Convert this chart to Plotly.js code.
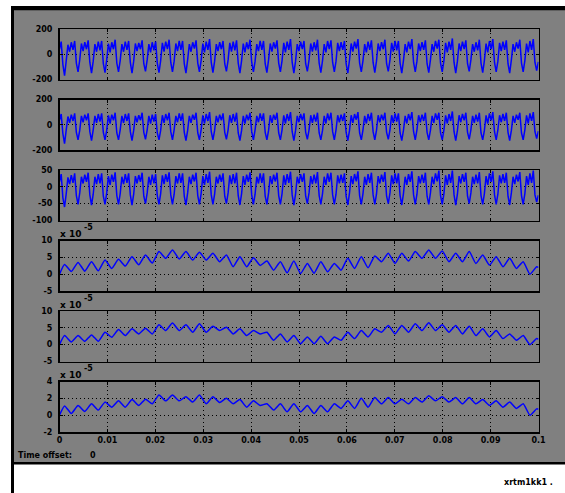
<!DOCTYPE html>
<html><head><meta charset="utf-8">
<script src="https://cdn.plot.ly/plotly-3.0.1.min.js"></script>
<style>html,body{margin:0;padding:0;background:#fff;overflow:hidden}#chart{width:565px;height:493px}</style>
</head><body><div id="chart"></div>
<script>
// ---- data ----
const dt = 0.000352;            // scope sample step (s)
const xTickVals = [0,0.01,0.02,0.03,0.04,0.05,0.06,0.07,0.08,0.09,0.1];
const xTickText = ["0","0.01","0.02","0.03","0.04","0.05","0.06","0.07","0.08","0.09","0.1"];

// signal 1 (one row per cycle, 8 samples each)
const v1 = [
 40,100,-80,-170,-50,75,20,95,
 35,105,-70,-140,-45,85,25,95,
 40,110,-65,-150,-55,80,20,100,
 30,105,-75,-145,-45,85,15,95,
 40,115,-70,-140,-50,80,20,100,
 35,105,-65,-150,-55,85,25,90,
 40,110,-75,-135,-45,80,15,95,
 30,100,-70,-145,-50,90,20,100,
 40,115,-65,-140,-55,85,25,105,
 35,105,-75,-150,-45,80,20,95,
 45,110,-70,-140,-50,85,15,100,
 35,120,-65,-145,-55,80,25,95,
 40,105,-75,-135,-45,90,20,100,
 30,110,-70,-150,-50,85,15,95,
 40,115,-65,-140,-55,80,25,105,
 35,105,-75,-145,-45,85,20,95,
 45,110,-70,-140,-50,90,15,100,
 35,120,-65,-150,-55,80,25,100,
 40,105,-75,-135,-45,85,20,95,
 30,115,-70,-145,-50,80,15,105,
 40,110,-65,-140,-55,90,25,95,
 35,105,-75,-150,-45,85,20,100,
 45,120,-70,-140,-50,80,15,100,
 35,110,-65,-145,-55,85,25,95,
 40,115,-75,-135,-45,90,20,105,
 30,105,-70,-150,-50,80,15,100,
 40,120,-65,-140,-55,85,25,95,
 35,110,-75,-145,-45,80,20,105,
 45,115,-70,-140,-50,90,15,100,
 35,125,-65,-150,-55,85,25,100,
 40,110,-75,-135,-45,80,20,95,
 30,115,-70,-145,-50,85,15,105,
 40,120,-65,-140,-55,90,25,100,
 35,110,-75,-150,-45,80,20,95,
 45,115,-70,-140,-50,85,15,105,
 35,120,-65,-130,-60
];
// signal 2
const v2 = [
 35,85,-70,-150,-40,65,15,80,
 30,90,-60,-120,-45,70,20,80,
 35,90,-55,-125,-40,70,15,85,
 25,90,-60,-120,-45,75,10,80,
 35,95,-65,-120,-40,70,15,85,
 30,90,-55,-125,-45,70,20,75,
 35,95,-60,-115,-40,70,10,80,
 25,85,-65,-120,-45,75,15,85,
 35,95,-55,-120,-40,70,20,90,
 30,90,-60,-125,-45,70,15,80,
 40,95,-65,-120,-40,75,10,85,
 30,100,-55,-120,-45,70,20,80,
 35,90,-60,-115,-40,75,15,85,
 25,95,-65,-125,-45,70,10,80,
 35,95,-55,-120,-40,70,20,90,
 30,90,-60,-120,-45,75,15,80,
 40,95,-65,-120,-40,75,10,85,
 30,100,-55,-125,-45,70,20,85,
 35,90,-60,-115,-40,75,15,80,
 25,95,-65,-120,-45,70,10,90,
 35,95,-55,-120,-40,75,20,80,
 30,90,-60,-125,-45,75,15,85,
 40,100,-65,-120,-40,70,10,85,
 30,95,-55,-120,-45,75,20,80,
 35,95,-60,-115,-40,75,15,90,
 25,90,-65,-125,-45,70,10,85,
 35,100,-55,-120,-40,75,20,80,
 30,95,-60,-120,-45,70,15,90,
 40,95,-65,-120,-40,75,10,85,
 30,105,-55,-125,-45,75,20,85,
 35,95,-60,-115,-40,70,15,80,
 25,95,-65,-120,-45,75,10,90,
 35,100,-55,-120,-40,75,20,85,
 30,95,-60,-125,-45,70,15,80,
 40,95,-65,-120,-40,75,10,90,
 30,100,-55,-110,-50
];
// signal 3
const v3 = [
 15,38,-32,-60,-20,28,8,35,
 12,40,-26,-52,-18,30,10,36,
 15,42,-24,-54,-22,30,8,38,
 10,40,-28,-52,-18,32,6,36,
 15,43,-26,-52,-20,30,8,38,
 12,40,-24,-54,-22,32,10,35,
 15,42,-28,-50,-18,30,6,36,
 10,38,-26,-52,-20,34,8,38,
 15,43,-24,-52,-22,32,10,40,
 12,40,-28,-54,-18,30,8,36,
 16,42,-26,-52,-20,32,6,38,
 12,45,-24,-52,-22,30,10,36,
 15,40,-28,-50,-18,34,8,38,
 10,42,-26,-54,-20,32,6,36,
 15,43,-24,-52,-22,30,10,40,
 12,40,-28,-52,-18,32,8,36,
 16,42,-26,-52,-20,34,6,38,
 12,45,-24,-54,-22,30,10,38,
 15,40,-28,-50,-18,32,8,36,
 10,44,-26,-52,-20,30,6,40,
 15,42,-24,-52,-22,34,10,36,
 12,40,-28,-54,-18,32,8,38,
 16,46,-26,-52,-20,30,6,38,
 12,42,-24,-52,-22,32,10,36,
 15,44,-28,-50,-18,34,8,40,
 10,40,-26,-54,-20,30,6,38,
 15,46,-24,-52,-22,32,10,36,
 12,42,-28,-52,-18,30,8,40,
 16,48,-26,-52,-20,34,6,38,
 12,48,-24,-54,-22,32,10,38,
 15,42,-28,-50,-18,30,8,36,
 10,44,-26,-52,-20,32,6,40,
 15,46,-24,-52,-22,34,10,38,
 12,42,-28,-54,-18,30,8,36,
 16,44,-26,-52,-20,32,6,40,
 12,48,-24,-45,-25
];
// signals 4-6 (x 10^-5): start, then peak/trough pairs per cycle, last peak, end
const v4 = [0, 2.9,0.8, 3.5,0.9, 3.7,1.0, 4.2,1.7, 4.4,2.4, 5.2,2.8, 5.7,3.3, 6.7,4.7, 7.2,4.5, 6.7,4.2,
 6.5,4.2, 6.2,3.7, 5.7,2.2, 5.2,2.2, 4.9,2.6, 3.9,1.2, 3.7,0.4, 3.9,0.2, 3.2,0.3, 3.7,0.7,
 3.2,1.2, 4.7,1.7, 5.2,1.9, 5.4,3.7, 6.2,3.2, 6.2,3.9, 6.7,4.7, 7.2,4.7, 6.9,3.7, 6.2,3.7,
 6.7,3.2, 5.7,2.7, 5.2,2.2, 4.7,1.7, 3.7,0.0, 2.2, 2.0];
const v5 = [0, 2.7,0.8, 2.7,1.0, 2.9,1.0, 3.7,2.2, 4.5,2.7, 4.7,3.2, 4.9,3.2, 5.9,4.2, 6.4,4.2, 5.9,3.7,
 6.2,3.7, 5.5,4.2, 5.2,3.2, 4.7,2.7, 4.2,3.2, 3.7,1.3, 3.2,0.8, 2.7,0.3, 2.3,0.3, 2.5,0.3,
 2.3,1.3, 3.7,1.8, 4.2,2.3, 4.7,3.7, 5.7,3.2, 5.7,3.7, 6.2,4.2, 6.5,4.2, 5.9,3.7, 5.7,3.2,
 5.5,2.7, 4.7,2.3, 4.2,1.8, 3.2,1.3, 2.7,0.0, 1.8, 1.6];
const v6 = [0, 1.1,0.2, 1.15,0.45, 1.35,0.6, 1.55,0.95, 1.7,0.95, 1.85,1.15, 1.9,1.35, 2.4,1.7, 2.4,1.7, 2.2,1.55,
 2.4,1.35, 2.2,1.5, 2.0,1.35, 1.85,0.95, 1.7,1.15, 1.35,0.6, 1.35,0.4, 1.35,0.4, 1.15,0.2, 1.15,0.4,
 1.35,0.8, 1.7,0.8, 2.0,0.95, 2.1,1.35, 2.1,1.35, 1.9,1.35, 2.1,1.55, 2.3,1.7, 2.2,1.55, 2.1,1.35,
 2.1,1.35, 1.85,1.15, 1.7,0.95, 1.55,0.8, 1.35,0.0, 0.75, 0.7];

const yTicks = [
  {range:[-200,200], vals:[-200,0,200], text:["-200","0","200"]},
  {range:[-200,200], vals:[-200,0,200], text:["-200","0","200"]},
  {range:[-100,50],  vals:[-100,-50,0,50], text:["-100","-50","0","50"]},
  {range:[-5,10],    vals:[-5,0,5,10], text:["-5","0","5","10"]},
  {range:[-5,10],    vals:[-5,0,5,10], text:["-5","0","5","10"]},
  {range:[-2,4],     vals:[-2,0,2,4],  text:["-2","0","2","4"]}
];
const expBase = "x 10";
const expPower = "-5";
const offsetLabel = "Time offset:";
const offsetValue = "0";
const footerText = "xrtm1kk1 .";

// ---- time grids ----
const tFast = v1.map((_, i) => i * dt);
const tSlow = [0];
for (let k = 0; k < 35; k++) { tSlow.push((3 + 8*k) * dt); tSlow.push((7 + 8*k) * dt); }
tSlow.push(283 * dt); tSlow.push(0.1);

// ---- layout geometry (pixels) ----
const W = 565, H = 493;
const fx = x => x / W, fy = y => 1 - y / H;
const plotL = 59.5, plotR = 538.5;
const tops = [29, 99.5, 170, 240.5, 311, 381.5];
const ph = 50.5;

const font = {family: "DejaVu Sans, Arial, sans-serif", size: 8, color: "#000", weight: "bold"};
const expFont = {family: "DejaVu Sans, Arial, sans-serif", size: 9, color: "#000", weight: "bold"};
const blue = "rgb(0,0,255)";

const series = [[tFast, v1], [tFast, v2], [tFast, v3], [tSlow, v4], [tSlow, v5], [tSlow, v6]];
const data = series.map((s, i) => ({
  x: s[0], y: s[1], type: "scatter", mode: "lines",
  line: {color: blue, width: 1.5, shape: i >= 3 ? "spline" : "linear", smoothing: 0.5},
  xaxis: i === 0 ? "x" : "x" + (i + 1), yaxis: i === 0 ? "y" : "y" + (i + 1),
  hoverinfo: "skip", showlegend: false
}));

const layout = {
  width: W, height: H, autosize: false,
  margin: {l: 0, r: 0, t: 0, b: 0, pad: 0},
  paper_bgcolor: "#ffffff", plot_bgcolor: "#ffffff",
  showlegend: false, font: font,
  shapes: [
    {type: "rect", xref: "paper", yref: "paper", x0: fx(14), x1: 1, y0: fy(462), y1: fy(10.5), fillcolor: "#808080", line: {width: 0}, layer: "below"},
    {type: "rect", xref: "paper", yref: "paper", x0: fx(11), x1: 1, y0: fy(10.5), y1: fy(6), fillcolor: "#000", line: {width: 0}, layer: "below"},
    {type: "rect", xref: "paper", yref: "paper", x0: fx(11), x1: fx(14), y0: 0, y1: fy(6), fillcolor: "#000", line: {width: 0}, layer: "below"},
    {type: "rect", xref: "paper", yref: "paper", x0: fx(11), x1: 1, y0: fy(464.5), y1: fy(462), fillcolor: "#000", line: {width: 0}, layer: "below"}
  ],
  annotations: []
};

for (let i = 0; i < 6; i++) {
  const xa = i === 0 ? "xaxis" : "xaxis" + (i + 1);
  const ya = i === 0 ? "yaxis" : "yaxis" + (i + 1);
  const yid = i === 0 ? "y" : "y" + (i + 1);
  const xid = i === 0 ? "x" : "x" + (i + 1);
  layout[xa] = {
    domain: [fx(plotL), fx(plotR)], anchor: yid, range: [0, 0.1],
    tickmode: "array", tickvals: xTickVals, ticktext: xTickText,
    showticklabels: i === 5, tickfont: font, ticklabelstandoff: 0,
    ticks: "inside", ticklen: 3, tickcolor: "#000", tickwidth: 1,
    showgrid: true, gridcolor: "#000", gridwidth: 1, griddash: "1px,3px",
    zeroline: false, showline: true, linecolor: "#000", linewidth: 1.5, mirror: "ticks",
    fixedrange: true
  };
  layout[ya] = {
    domain: [fy(tops[i] + ph), fy(tops[i])], anchor: xid, range: yTicks[i].range,
    tickmode: "array", tickvals: yTicks[i].vals, ticktext: yTicks[i].text,
    tickfont: font, ticklabelstandoff: 4,
    ticks: "inside", ticklen: 3, tickcolor: "#000", tickwidth: 1,
    showgrid: true, gridcolor: "#000", gridwidth: 1, griddash: "1px,3px",
    zeroline: false, showline: true, linecolor: "#000", linewidth: 1.5, mirror: "ticks",
    fixedrange: true
  };
  if (i >= 3) {
    layout.annotations.push({xref: "paper", yref: "paper", x: fx(58), y: fy(tops[i] - 6.5),
      xanchor: "left", yanchor: "middle", text: expBase, showarrow: false, font: expFont});
    layout.annotations.push({xref: "paper", yref: "paper", x: fx(82), y: fy(tops[i] - 13),
      xanchor: "left", yanchor: "middle", text: expPower, showarrow: false, font: font});
  }
}
layout.annotations.push({xref: "paper", yref: "paper", x: fx(16), y: fy(455), xanchor: "left", yanchor: "middle",
  text: offsetLabel, showarrow: false, font: font});
layout.annotations.push({xref: "paper", yref: "paper", x: fx(88), y: fy(455), xanchor: "left", yanchor: "middle",
  text: offsetValue, showarrow: false, font: font});
layout.annotations.push({xref: "paper", yref: "paper", x: fx(502), y: fy(482), xanchor: "left", yanchor: "middle",
  text: footerText, showarrow: false, font: font});

Plotly.newPlot("chart", data, layout, {staticPlot: true, displayModeBar: false});
</script>
</body></html>
